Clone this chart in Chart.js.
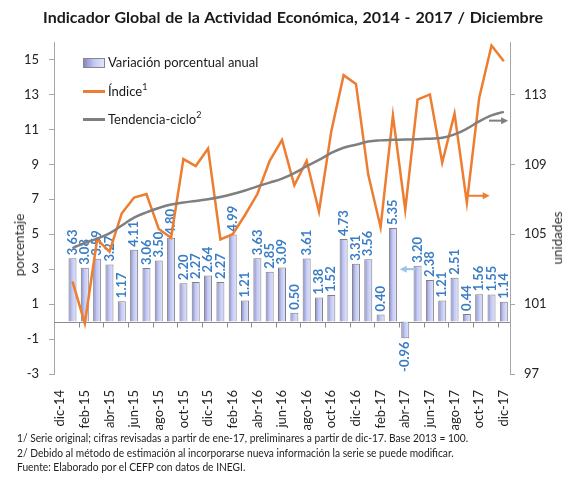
<!DOCTYPE html>
<html>
<head>
<meta charset="utf-8">
<script src="https://cdn.jsdelivr.net/npm/chart.js@4"></script>
<style>
  body{margin:0;background:#fff;}
  #wrap{position:relative;width:574px;height:477px;font-family:Lato,"Open Sans",sans-serif;color:#1a1a1a;}
  canvas{position:absolute;left:0;top:0;}
  .ov{position:absolute;white-space:nowrap;}
  #title{left:6px;width:574px;top:7px;text-align:center;font-weight:bold;font-size:16px;word-spacing:1px;}
  .leg{left:108px;font-size:13px;line-height:18px;}
  .leg sup{font-size:9px;vertical-align:6px;line-height:0;}
  .sw{position:absolute;left:83px;width:22px;}
  .rot{font-size:13.5px;font-weight:normal;color:#333;transform:translate(-50%,-50%) rotate(-90deg);}
  .note{left:17px;font-size:11px;line-height:14px;transform:scaleX(0.93);transform-origin:0 0;color:#222;}
</style>
</head>
<body>
<div id="wrap">
  <canvas id="chart" width="574" height="477"></canvas>
  <div class="ov" id="title">Indicador Global de la Actividad Económica, 2014 - 2017 / Diciembre</div>
  <div class="sw" style="top:58px;height:8px;border:1px solid #888;width:20px;background:linear-gradient(to right,#8587c2,#c3c8f3,#e2e5ff);"></div>
  <div class="ov leg" style="top:53px;">Variación porcentual anual</div>
  <div class="sw" style="top:90px;height:3px;background:#ed7d31;"></div>
  <div class="ov leg" style="top:82px;">Índice<sup>1</sup></div>
  <div class="sw" style="top:118px;height:3px;background:#7f7f7f;"></div>
  <div class="ov leg" style="top:110px;">Tendencia-ciclo<sup>2</sup></div>
  <div class="ov rot" style="left:19px;top:245px;">porcentaje</div>
  <div class="ov rot" style="left:557px;top:238px;">unidades</div>
  <div class="ov note" style="top:431px;">1/ Serie original; cifras revisadas a partir de ene-17, preliminares a partir de dic-17. Base 2013 = 100.</div>
  <div class="ov note" style="top:446px;">2/ Debido al método de estimación al incorporarse nueva información la serie se puede modificar.</div>
  <div class="ov note" style="top:460px;">Fuente: Elaborado por el CEFP con datos de INEGI.</div>
</div>
<script>
// --- Data ---
const months = ['dic-14','ene-15','feb-15','mar-15','abr-15','may-15','jun-15','jul-15','ago-15','sep-15','oct-15','nov-15','dic-15',
  'ene-16','feb-16','mar-16','abr-16','may-16','jun-16','jul-16','ago-16','sep-16','oct-16','nov-16','dic-16',
  'ene-17','feb-17','mar-17','abr-17','may-17','jun-17','jul-17','ago-17','sep-17','oct-17','nov-17','dic-17'];

// Variación porcentual anual (%)
const variacion = [null,3.63,3.08,3.59,3.27,1.17,4.11,3.06,3.50,4.80,2.20,2.27,2.64,
  2.27,4.99,1.21,3.63,2.85,3.09,0.50,3.61,1.38,1.52,4.73,3.31,
  3.56,0.40,5.35,-0.96,3.20,2.38,1.21,2.51,0.44,1.56,1.55,1.14];

// Índice (unidades)
const indice = [null,102.3,99.9,104.7,104.0,106.2,107.1,107.3,105.3,104.8,109.3,108.9,109.9,
  104.7,105.0,106.1,107.3,109.2,110.4,107.8,109.2,106.3,110.9,114.1,113.6,
  108.4,105.4,111.8,106.4,112.7,113.0,109.1,111.9,106.8,112.8,115.8,114.9];

// Tendencia-ciclo (unidades)
const tendencia = [null,104.2,104.5,104.75,105.05,105.5,105.95,106.25,106.5,106.7,106.82,106.9,107.0,
  107.13,107.3,107.5,107.74,107.95,108.18,108.5,108.89,109.25,109.65,109.95,110.12,
  110.3,110.37,110.4,110.42,110.43,110.47,110.52,110.71,111.04,111.46,111.8,112.0];

const leftTicks = [-3,-1,1,3,5,7,9,11,13,15];
const rightTicks = [97,101,105,109,113];

// annotation arrows: [fromIndex, toIndex, value, axis, color]
const arrows = [
  [33.15, 34.85, 107.2, 'y2', '#ed7d31'],
  [34.8, 36.35, 111.5, 'y2', '#7f7f7f'],
  [29.0, 27.55, 3.0, 'y', '#9dc3e6']
];

const grey = '#a6a6a6';
const tickFont = {family:'Lato', size:13};

function barGradient(c){
  const chart = c.chart;
  if(!chart.chartArea || !chart.scales.x) return '#c3c8f3';
  const x = chart.scales.x.getPixelForValue(c.dataIndex);
  const g = chart.ctx.createLinearGradient(x-4,0,x+4,0);
  g.addColorStop(0,'#8587c2');
  g.addColorStop(0.45,'#c3c8f3');
  g.addColorStop(1,'#e2e5ff');
  return g;
}

const zeroAxis = {
  id:'zeroAxis',
  beforeDatasetsDraw(chart){
    const {ctx, chartArea, scales} = chart;
    const y0 = Math.round(scales.y.getPixelForValue(0)) + 0.5;
    ctx.save();
    ctx.strokeStyle = '#8c8c8c';
    ctx.lineWidth = 1;
    ctx.beginPath();
    ctx.moveTo(chartArea.left, y0);
    ctx.lineTo(chartArea.right, y0);
    for(let i=2;i<months.length;i+=2){
      const x = Math.round(scales.x.getPixelForValue(i-0.5)) + 0.5;
      ctx.moveTo(x, y0);
      ctx.lineTo(x, y0+5);
    }
    ctx.stroke();
    ctx.restore();
  }
};

const barLabels = {
  id:'barLabels',
  afterDatasetDraw(chart, args){
    if(args.index !== 0) return;
    const {ctx} = chart;
    ctx.save();
    ctx.fillStyle = '#3b7dc4';
    ctx.font = 'bold 13px Lato';
    ctx.textBaseline = 'middle';
    args.meta.data.forEach((bar,i)=>{
      const v = variacion[i];
      if(v === null) return;
      ctx.save();
      ctx.translate(bar.x, v >= 0 ? bar.y - 3 : bar.y + 3);
      ctx.rotate(-Math.PI/2);
      ctx.textAlign = v >= 0 ? 'left' : 'right';
      ctx.fillText(v.toFixed(2), 0, 0);
      ctx.restore();
    });
    ctx.restore();
  }
};

const arrowPlugin = {
  id:'arrows',
  afterDatasetsDraw(chart){
    const {ctx, scales} = chart;
    ctx.save();
    ctx.lineWidth = 2;
    for(const [a,b,v,axis,color] of arrows){
      const x1 = scales.x.getPixelForValue(a);
      const x2 = scales.x.getPixelForValue(b);
      const y = scales[axis].getPixelForValue(v);
      const dir = Math.sign(x2-x1);
      ctx.strokeStyle = color;
      ctx.fillStyle = color;
      ctx.beginPath();
      ctx.moveTo(x1, y);
      ctx.lineTo(x2 - dir*5, y);
      ctx.stroke();
      ctx.beginPath();
      ctx.moveTo(x2, y);
      ctx.lineTo(x2 - dir*7, y-3.5);
      ctx.lineTo(x2 - dir*7, y+3.5);
      ctx.closePath();
      ctx.fill();
    }
    ctx.restore();
  }
};

new Chart(document.getElementById('chart'), {
  type:'bar',
  data:{
    labels: months,
    datasets:[
      {type:'bar', label:'Variación porcentual anual', data:variacion, yAxisID:'y', order:3,
        backgroundColor:barGradient, borderColor:'#7f7f7f', borderWidth:1,
        barPercentage:0.65, categoryPercentage:1},
      {type:'line', label:'Índice', data:indice, yAxisID:'y2', order:2,
        borderColor:'#ed7d31', borderWidth:2.5, pointRadius:0, tension:0, fill:false},
      {type:'line', label:'Tendencia-ciclo', data:tendencia, yAxisID:'y2', order:1,
        borderColor:'#7f7f7f', borderWidth:2.5, pointRadius:0, tension:0.4, fill:false}
    ]
  },
  options:{
    responsive:false,
    animation:false,
    layout:{padding:{top:42, left:0, right:0, bottom:43}},
    plugins:{legend:{display:false}, tooltip:{enabled:false}},
    scales:{
      x:{
        offset:true,
        grid:{display:false},
        border:{display:false},
        ticks:{autoSkip:false, maxRotation:90, minRotation:90, padding:8, color:'#222', font:tickFont,
          callback:(v,i)=> i%2===0 ? months[i] : ''},
        afterFit(s){ s.height = 60; }
      },
      y:{
        position:'left', min:-3, max:16,
        grid:{drawOnChartArea:false, color:grey, tickLength:5},
        border:{display:true, color:grey},
        ticks:{padding:10, color:'#222', font:tickFont},
        afterBuildTicks(s){ s.ticks = leftTicks.map(v=>({value:v})); },
        afterFit(s){ s.width = 54; }
      },
      y2:{
        position:'right', min:97, max:116,
        grid:{drawOnChartArea:false, color:grey, tickLength:5},
        border:{display:true, color:grey},
        ticks:{padding:9, color:'#222', font:tickFont},
        afterBuildTicks(s){ s.ticks = rightTicks.map(v=>({value:v})); },
        afterFit(s){ s.width = 64; }
      }
    }
  },
  plugins:[zeroAxis, barLabels, arrowPlugin]
});
</script>
</body>
</html>
